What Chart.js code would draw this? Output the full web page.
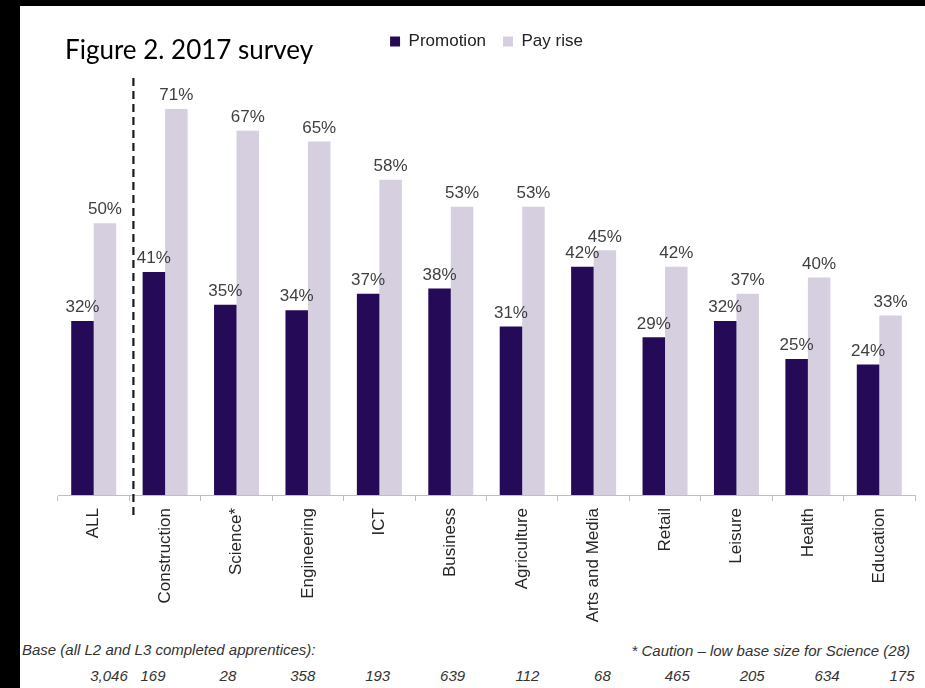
<!DOCTYPE html>
<html>
<head>
<meta charset="utf-8">
<script src="https://cdn.jsdelivr.net/npm/chart.js"></script>
<style>
  body { margin: 0; background: #fff; width: 925px; height: 688px; overflow: hidden; position: relative; }
  .band-top { position: absolute; left: 0; top: 0; width: 925px; height: 6px; background: #000; }
  .band-left { position: absolute; left: 0; top: 0; width: 20px; height: 688px; background: #000; }
  #wrap { position: absolute; left: 20px; top: 6px; width: 905px; height: 634px; }
  .title { position: absolute; left: 65px; top: 33px; font-family: Lato, sans-serif; font-size: 26px; color: #000; white-space: nowrap; }
  .note { position: absolute; font-family: 'Liberation Sans', Arial, sans-serif; font-style: italic; font-size: 15px; color: #333; line-height: 17px; white-space: nowrap; }
  .base { position: absolute; width: 60px; text-align: center; }
</style>
</head>
<body>
<div class="band-top"></div>
<div class="band-left"></div>
<div id="wrap"><canvas id="barChart"></canvas></div>
<div class="title">Figure 2. 2017 survey</div>
<div class="note" style="left:22px; top:641px;">Base (all L2 and L3 completed apprentices):</div>
<div class="note" style="right:15px; top:642px;">* Caution – low base size for Science (28)</div>
<div id="baseRow"></div>

<script>
// data
const categories = ["ALL", "Construction", "Science*", "Engineering", "ICT", "Business",
  "Agriculture", "Arts and Media", "Retail", "Leisure", "Health", "Education"];
const promotion = [32, 41, 35, 34, 37, 38, 31, 42, 29, 32, 25, 24];
const payRise = [50, 71, 67, 65, 58, 53, 53, 45, 42, 37, 40, 33];
const baseSizes = ["3,046", "169", "28", "358", "193", "639", "112", "68", "465", "205", "634", "175"];

const labelFont = "'Liberation Sans', Arial, sans-serif";

// base sizes row under the chart
let baseRow = document.getElementById("baseRow");
for (let i = 0; i < baseSizes.length; i++) {
  let cx = i === 0 ? 109 : 153 + (i - 1) * 74.9;
  let s = document.createElement("div");
  s.className = "note base";
  s.style.left = (cx - 30) + "px";
  s.style.top = "667px";
  s.textContent = baseSizes[i];
  baseRow.appendChild(s);
}

// percent labels above the bars
const valueLabels = {
  id: "valueLabels",
  afterDatasetsDraw(chart) {
    const ctx = chart.ctx;
    ctx.save();
    ctx.font = "17px " + labelFont;
    ctx.fillStyle = "#404040";
    ctx.textAlign = "center";
    ctx.textBaseline = "bottom";
    chart.data.datasets.forEach((ds, d) => {
      chart.getDatasetMeta(d).data.forEach((bar, i) => {
        ctx.fillText(ds.data[i] + "%", bar.x, bar.y - 5);
      });
    });
    ctx.restore();
  }
};

// dashed divider between ALL and the sectors
const divider = {
  id: "divider",
  afterDraw(chart) {
    const ctx = chart.ctx;
    const xs = chart.scales.x;
    const x = (xs.getPixelForTick(0) + xs.getPixelForTick(1)) / 2 + 4;
    ctx.save();
    ctx.strokeStyle = "#1a1a1a";
    ctx.lineWidth = 2.2;
    ctx.setLineDash([8, 5]);
    ctx.beginPath();
    ctx.moveTo(x, chart.chartArea.top + 18);
    ctx.lineTo(x, chart.chartArea.bottom + 23);
    ctx.stroke();
    ctx.restore();
  }
};

var ctxB = document.getElementById("barChart").getContext("2d");
var myBarChart = new Chart(ctxB, {
  type: "bar",
  data: {
    labels: categories,
    datasets: [{
      label: "Promotion",
      data: promotion,
      backgroundColor: "#250a57",
      categoryPercentage: 0.63,
      barPercentage: 1.0
    }, {
      label: "Pay rise",
      data: payRise,
      backgroundColor: "#d5cfe0",
      categoryPercentage: 0.63,
      barPercentage: 1.0
    }]
  },
  options: {
    responsive: true,
    maintainAspectRatio: false,
    animation: false,
    layout: { padding: { left: 38, right: 10, top: 10, bottom: 0 } },
    plugins: {
      legend: {
        position: "top",
        labels: {
          boxWidth: 10,
          boxHeight: 10,
          padding: 17,
          color: "#222",
          font: { family: labelFont, size: 17 }
        }
      },
      tooltip: { enabled: false }
    },
    scales: {
      x: {
        grid: { display: true, drawOnChartArea: false, drawTicks: true, tickLength: 6, color: "#bfbfbf", offset: true },
        border: { color: "#bfbfbf" },
        ticks: {
          minRotation: 90,
          maxRotation: 90,
          autoSkip: false,
          padding: 7,
          color: "#262626",
          font: { family: labelFont, size: 17 }
        },
        afterFit: s => { s.height = 145; }
      },
      y: {
        display: false,
        min: 0,
        max: 80
      }
    }
  },
  plugins: [valueLabels, divider]
});
</script>
</body>
</html>
